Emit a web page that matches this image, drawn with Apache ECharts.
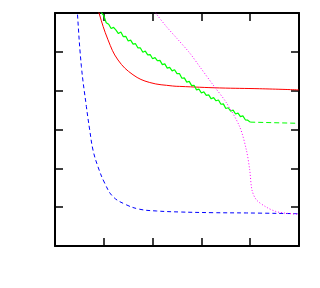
<!DOCTYPE html>
<html>
<head>
<meta charset="utf-8">
<script src="https://cdn.jsdelivr.net/npm/echarts@6/dist/echarts.min.js"></script>
<style>html,body{margin:0;padding:0;background:#fff}#c{width:320px;height:288px}</style>
</head>
<body>
<div id="c"></div>
<script>
// x range 0..5 (5 tick intervals), y range 0..6 (6 tick intervals)
var redX = [0.85, 0.902, 1.086, 1.291, 1.598, 1.941, 2.412, 2.555, 3.375, 4.195, 4.994];
var redY = [6.30, 6.00, 5.31, 4.79, 4.41, 4.21, 4.12, 4.11, 4.07, 4.05, 4.02];

var blueX = [0.44, 0.459, 0.541, 0.643, 0.711, 0.779, 0.881, 1.018, 1.189, 1.463, 1.736, 2.078, 2.555, 3.238, 3.922, 4.980];
var blueY = [6.50, 6.00, 4.62, 3.59, 2.99, 2.47, 2.04, 1.62, 1.27, 1.06, 0.946, 0.902, 0.876, 0.858, 0.851, 0.832];

var magentaX = [2.00, 2.064, 2.283, 2.488, 2.760, 2.965, 3.238, 3.512, 3.785, 3.922, 3.990, 4.037, 4.127, 4.332, 4.537, 4.742, 4.980];
var magentaY = [6.15, 6.00, 5.65, 5.36, 4.97, 4.62, 4.15, 3.69, 3.07, 2.47, 1.96, 1.44, 1.19, 1.00, 0.884, 0.843, 0.817];

var greenX = [0.93, 0.95, 1.00, 1.05, 1.10, 1.15, 1.20, 1.25, 1.30, 1.35, 1.40, 1.45, 1.50, 1.55, 1.60, 1.65, 1.70, 1.75, 1.80, 1.85, 1.90,
  1.95, 2.00, 2.05, 2.10, 2.15, 2.20, 2.25, 2.30, 2.35, 2.40, 2.45, 2.50, 2.55, 2.60, 2.65, 2.70, 2.75, 2.80, 2.85, 2.90,
  2.95, 3.00, 3.05, 3.10, 3.15, 3.20, 3.25, 3.30, 3.35, 3.40, 3.45, 3.50, 3.55, 3.60, 3.65, 3.70, 3.75, 3.80, 3.85, 3.90, 3.95, 4.00];
var greenY = [6.08, 6.01, 5.93, 5.75, 5.71, 5.60, 5.63, 5.56, 5.47, 5.51, 5.39, 5.40, 5.28, 5.30, 5.20, 5.21, 5.10, 5.10, 4.99, 5.02, 4.92,
  4.93, 4.82, 4.85, 4.77, 4.78, 4.67, 4.69, 4.58, 4.60, 4.51, 4.54, 4.44, 4.44, 4.32, 4.33, 4.22, 4.24, 4.13, 4.14, 4.02,
  4.04, 3.94, 3.97, 3.88, 3.89, 3.79, 3.82, 3.74, 3.76, 3.65, 3.66, 3.54, 3.56, 3.47, 3.50, 3.40, 3.42, 3.33, 3.35, 3.25, 3.24, 3.19];
var greenTailX = [4.00, 4.973];
var greenTailY = [3.19, 3.16];

function pairs(xs, ys) { return xs.map(function (x, i) { return [x, ys[i]]; }); }

var axisLine = { show: true, onZero: false, lineStyle: { color: '#000', width: 2 } };
var tick = { show: true, inside: true, length: 8, lineStyle: { color: '#000', width: 1.5 } };
function xa(pos) {
  return { type: 'value', position: pos, min: 0, max: 5, interval: 1, axisLine: axisLine, axisTick: tick,
    axisLabel: { show: false }, splitLine: { show: false } };
}
function ya(pos) {
  return { type: 'value', position: pos, min: 0, max: 6, interval: 1, axisLine: axisLine, axisTick: tick,
    axisLabel: { show: false }, splitLine: { show: false } };
}
function line(data, color, type, w, smooth) {
  return { type: 'line', data: data, showSymbol: false, symbol: 'none', silent: true, animation: false, clip: true,
    smooth: smooth || false,
    lineStyle: { color: color, width: w, type: type }, xAxisIndex: 0, yAxisIndex: 0 };
}

var chart = echarts.init(document.getElementById('c'), null, { renderer: 'canvas' });
chart.setOption({
  animation: false,
  backgroundColor: '#fff',
  grid: { left: 55, right: 21, top: 13, bottom: 42 },
  xAxis: [xa('bottom'), xa('top')],
  yAxis: [ya('left'), ya('right')],
  series: [
    line(pairs(redX, redY), '#ff0000', 'solid', 1, 0.4),
    line(pairs(greenX, greenY), '#00ff00', 'solid', 1.2, false),
    line(pairs(greenTailX, greenTailY), '#00ff00', [5, 3], 1, false),
    line(pairs(blueX, blueY), '#0000ff', [4, 3], 1, 0.4),
    line(pairs(magentaX, magentaY), '#ff00ff', [1, 2], 1, 0.3)
  ]
});
</script>
</body>
</html>
